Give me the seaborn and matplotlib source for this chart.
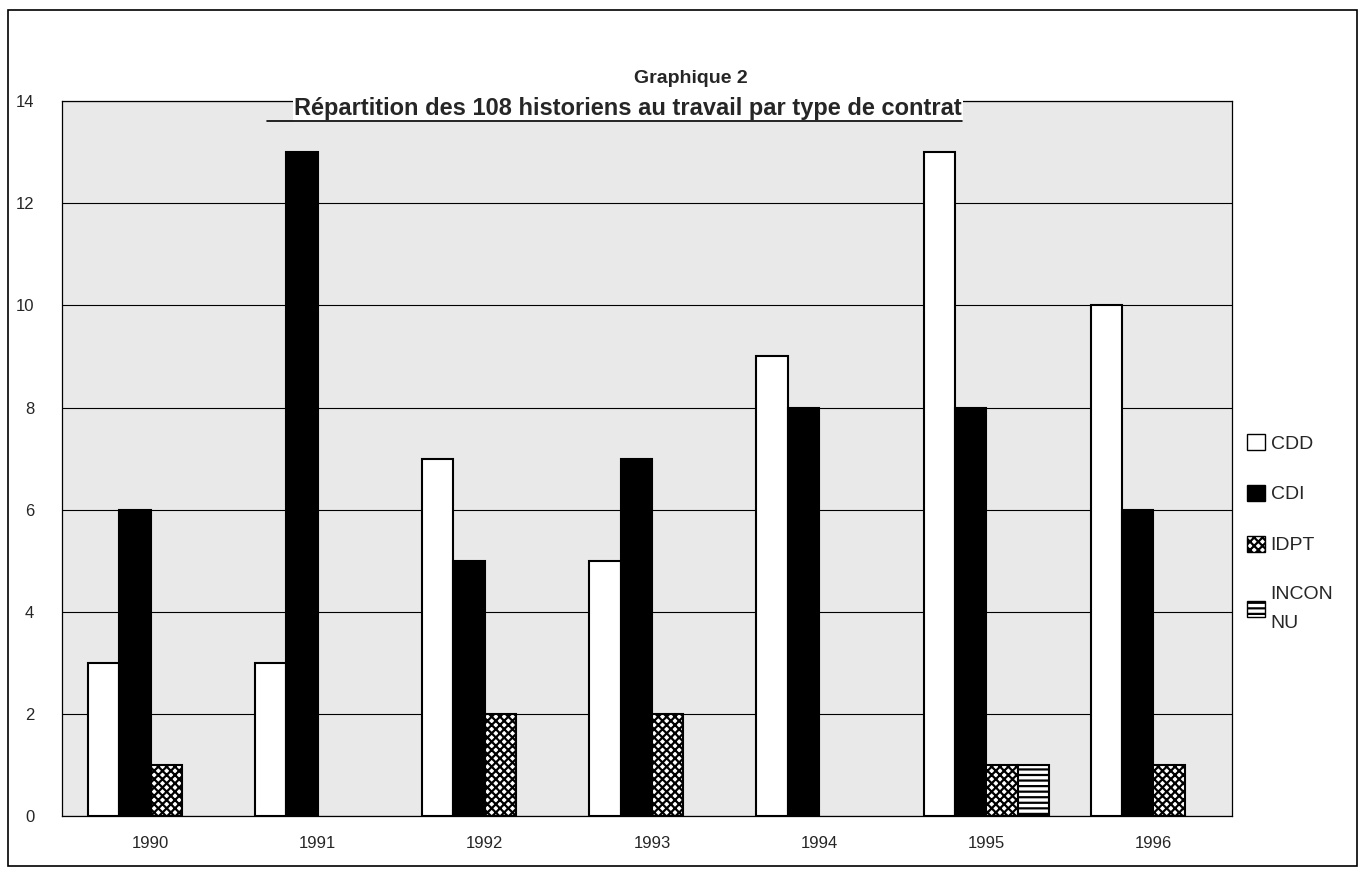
import pandas as pd
import matplotlib.pyplot as plt
import seaborn as sns
from matplotlib.patches import Rectangle
from matplotlib.lines import Line2D

# données
annees = ['1990', '1991', '1992', '1993', '1994', '1995', '1996']
contrats = ['CDD', 'CDI', 'IDPT', 'INCONNU']
cdd = [3, 3, 7, 5, 9, 13, 10]
cdi = [6, 13, 5, 7, 8, 8, 6]
idpt = [1, 0, 2, 2, 0, 1, 1]
inconnu = [0, 0, 0, 0, 0, 1, 0]
yticks = [0, 2, 4, 6, 8, 10, 12, 14]

rows = []
for nom, vals in zip(contrats, [cdd, cdi, idpt, inconnu]):
    for a, v in zip(annees, vals):
        rows.append({'annee': a, 'contrat': nom, 'n': v})
df = pd.DataFrame(rows)

sns.set_style("white")
plt.rcParams['font.family'] = ['Liberation Sans', 'DejaVu Sans']
plt.rcParams['hatch.linewidth'] = 1.6

fig = plt.figure(figsize=(13.62, 8.71), dpi=100)
ax = fig.add_axes([0.0455, 0.063, 0.859, 0.821])
ax.set_facecolor('#e9e9e9')

sns.barplot(data=df, x='annee', y='n', hue='contrat', order=annees,
            hue_order=contrats, palette=['white', 'black', 'white', 'white'],
            width=0.75, gap=0, edgecolor='black', linewidth=1.5,
            legend=False, ax=ax)

hatches = [None, None, 'xxxx', '---']
for cont, h in zip(ax.containers, hatches):
    for p in cont:
        if p.get_height() == 0:
            p.set_visible(False)
        if h:
            p.set_hatch(h)

ax.set_xlim(-0.53, 6.47)
ax.set_ylim(0, 14)
ax.set_yticks(yticks)
ax.yaxis.grid(True, color='black', linewidth=0.8)
ax.set_axisbelow(True)
ax.set_xlabel('')
ax.set_ylabel('')
ax.tick_params(axis='both', length=0, labelsize=12)
ax.tick_params(axis='x', pad=14)
ax.tick_params(axis='y', pad=20)
for s in ax.spines.values():
    s.set_color('black')
    s.set_linewidth(0.9)

# légende à droite
handles = [Rectangle((0, 0), 1, 1, facecolor='white', edgecolor='black', linewidth=1),
           Rectangle((0, 0), 1, 1, facecolor='black', edgecolor='black'),
           Rectangle((0, 0), 1, 1, facecolor='white', edgecolor='black', hatch='xxxx'),
           Rectangle((0, 0), 1, 1, facecolor='white', edgecolor='black', hatch='---')]
leg = fig.legend(handles, ['CDD', 'CDI', 'IDPT', 'INCON\nNU'], loc='upper left',
                 bbox_to_anchor=(0.903, 0.522), frameon=False, fontsize=14,
                 handlelength=0.9, handleheight=0.9, handletextpad=0.3,
                 labelspacing=1.65)
for t in leg.get_texts():
    t.set_linespacing(1.9)

# titres
fig.text(0.507, 0.91, 'Graphique 2', ha='center', va='center',
         fontsize=14, fontweight='bold')
t2 = fig.text(0.461, 0.875, 'Répartition des 108 historiens au travail par type de contrat',
              ha='center', va='center', fontsize=17, fontweight='bold', zorder=5,
              bbox=dict(facecolor='white', edgecolor='none', pad=1))
fig.canvas.draw()
bb = t2.get_window_extent().transformed(fig.transFigure.inverted())
fig.add_artist(Line2D([bb.x0 - 0.02, bb.x1], [bb.y0 - 0.001, bb.y0 - 0.001],
                      color='black', linewidth=1.2, zorder=6))

# cadre extérieur
fig.add_artist(Rectangle((0.006, 0.006), 0.99, 0.982, transform=fig.transFigure,
                         fill=False, edgecolor='black', linewidth=1.2))

fig.savefig('out.png', dpi=100)
